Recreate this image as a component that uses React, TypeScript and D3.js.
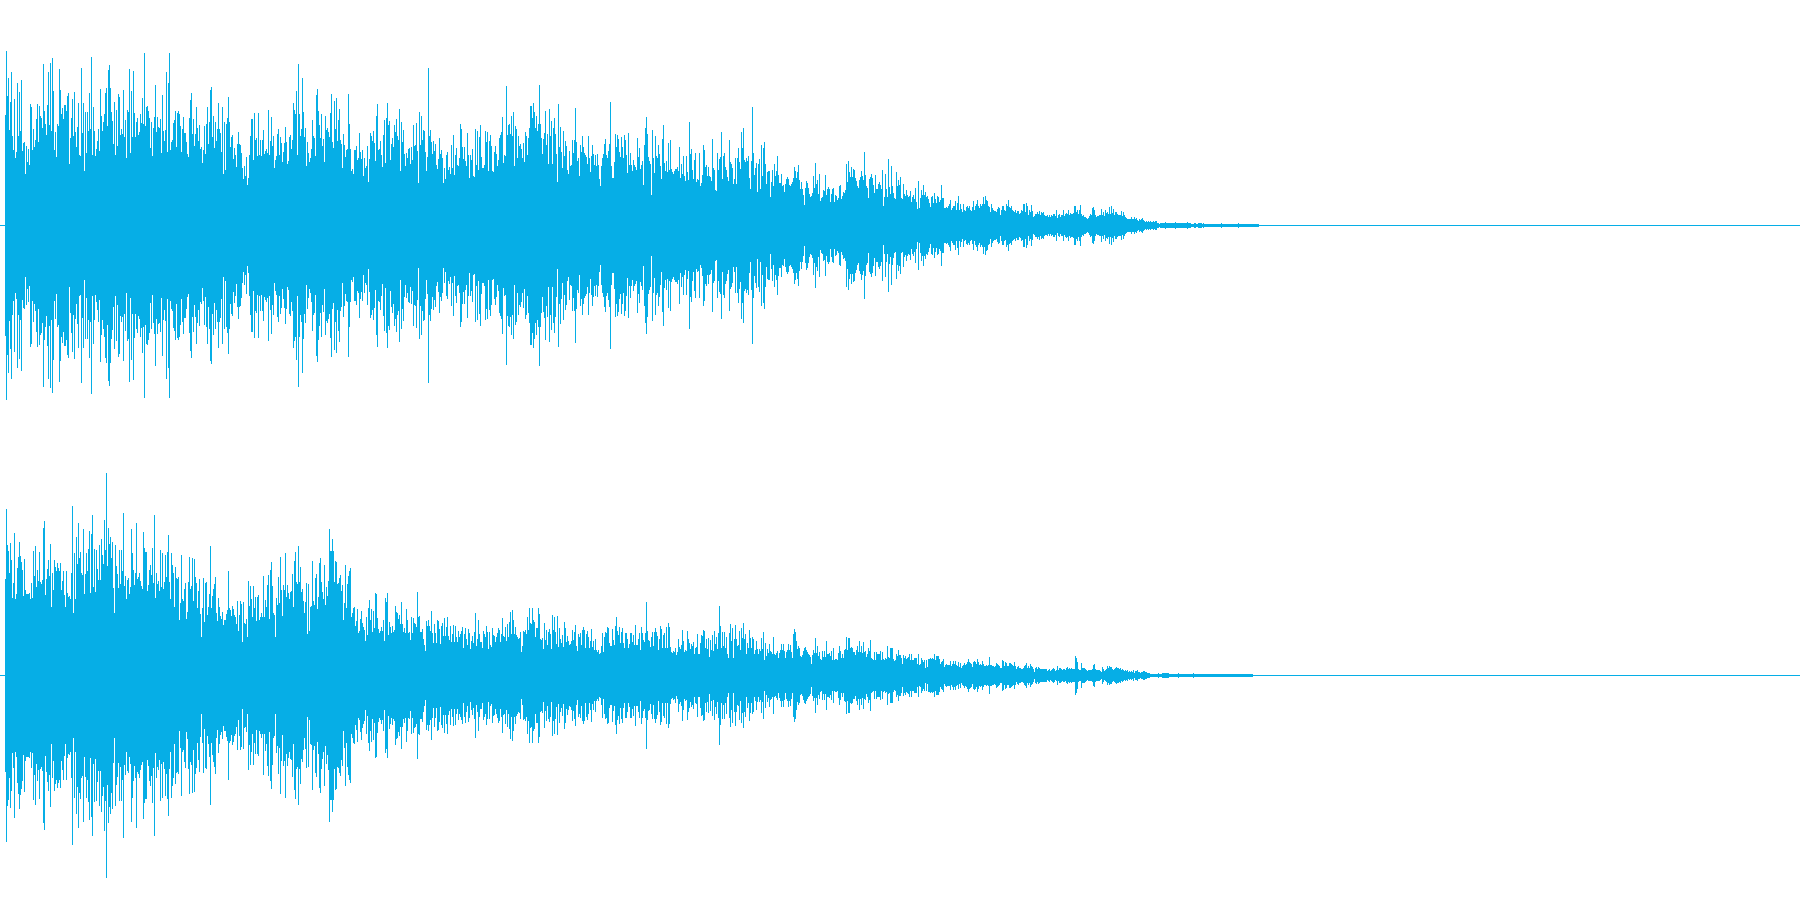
import React from "react";
import * as d3 from "d3";

const upperPeaksOpening = [110,174,129,147,95,123,153,89,75,126,67,73,142,89,133,94,145,74,82,83,51,79,63,76,60,121,118,75,96,78,85,106,121,83,119,109,107,97,161,114,101,90,120,153,100,162,94,167,134,75,93,68,101,99,156,135,111,117,106,120,120,114,129,132,61,87,107,126,89,133,93,78,98,122,70,69,157,92,122,54,113,72,113,94,132,96,168,70,118,94,69,76,84,96,74,136,109,94,103,111,132,137,99,155,160,137,113,104,81,123,70,115,79,131,128,90,96,91,135,88,105,67,115,113,156,72,134,88,154,112,88,103,107,90,93,111,102,127,101,172,99,118,119,114,107,77,103,69,97,108,140,93,108,98,97,106,72,130,94,84,95,153,73,142,172,75,83,85,102,105,114,78,112,114,111,99,73,96,108,92,92,83,71,68,107,125,132,91,106,79,91,118,97,84,100,76,78,62,75,99,71,101,118,81,103,135,138,88,109,77,103,84,96,122,96,92,73,118,51,103,55,101,107,128,103,78,88,90,66,77,70,58,81,93,81,80,72,57,46,59,49,68,40,47,70,89,106,106,65,112,85,87,69,112,70,85,69,85,95,71,74,76,72,115,70,84,108,79,89,57,65,69,91,96,70,88,82,63,73,82,98,83,61,64,88,90,76,85,122,115,111,134,70,161,111,89,96,147,113,88,97,59,83,72,63,67,76,105,89,87,69,130,136,114,100,87,111,79,86,63,109,95,97,93,88,112,131,83,77,124,96,127,84,105,116,85,81,57,91,80,68,75,76,131,101,76,54,56,51,75,75,79,65,67,92,73,66,75,49,67,57,59,79,43,66,92,89,84,94,82,64,109,121,75,76,84,70,58,90,105,62,107,122,100,104,65,81,87,78,100,93,106,89,85,116];
const upperPeaksMiddle = [54,103,83,95,71,59,72,67,76,77,61,78,65,100,79,80,102,74,42,113,80,109,85,95,94,73,54,68,157,89,95,83,71,84,74,81,60,56,66,87,71,75,67,42,57,46,70,73,55,58,51,80,57,90,50,70,77,60,59,67,101,96,78,66,78,64,59,92,70,47,70,65,76,49,48,96,60,94,55,88,100,68,57,57,60,94,83,93,54,84,90,79,54,53,73,79,71,59,65,87,90,93,108,62,70,69,139,90,100,101,91,109,89,113,59,99,96,67,89,79,81,76,67,82,63,93,89,70,87,97,119,119,107,122,113,97,109,94,101,140,101,87,71,86,92,114,80,91,61,116,89,104,61,97,107,91,71,43,121,78,98,73,57,94,69,84,79,55,51,74,59,60,85,72,85,117,83,64,67,49,80,73,89,78,72,70,68,61,89,67,53,69,80,71,60,70,59,71,60,46,39,59,67,71,81,86,70,67,74,81,123,59,47,47,63,91,78,90,86,73,68,88,78,67,90,85,70,52,92,60,72,60,54,65,60,58,55,87,68,77,56,60,64,40,80,97,108,91,68,64,61,30,95,67,52,89,69,67,80,71,59,46,86,100,62,54,64,53,82,55,85,56,53,51,54,56,56,58,54,78,47,61,51,69,49,44,69,53,45,103,71,76,55,46,65,72,43,46,45,72,39,42,50,80,75,58,60,49,58,49,48,44,86,57,55,35,34,72,55,66,68,93,46,69,72,58,55,48,44,85,63,61,57,41,46,67,41,67,77,63,56,93,77,97,65,63,67,64,69,47,36,64,118,72,50,57,62,33,61,66,36,80,49,77,83,61,41,53,54,54,28,43,55,39,61,49,54,69,50,42,42,51,39,40,33,41,46,48,46,40,39,41,43,47,58,54,47,53,60,45];
const upperPeaksDecay = [36,43,36,30,20,37,44,42,37,31,28,29,32,49,37,62,41,45,31,51,24,27,28,35,34,50,30,36,38,36,23,31,36,37,23,30,29,25,27,39,40,26,29,33,32,35,61,43,64,53,48,58,48,56,55,47,44,39,37,45,48,54,49,45,73,50,39,37,27,46,48,51,47,40,32,50,36,36,41,43,40,36,55,19,28,51,36,28,66,38,31,59,39,32,27,26,53,39,45,40,48,27,26,41,31,29,35,30,28,29,34,23,28,30,26,37,23,16,44,17,27,35,30,40,30,33,28,29,26,22,18,28,29,22,32,26,22,29,28,23,25,40,27,27,17,17,18,17,19,21,25,15,17,19,19,24,15,22,29,15,21,16,13,21,15,14,18,19,17,19,15,14,18,24,15,19,21,25,19,17,21,19,21,28,21,29,25,24,19,18,13,21,17,15,14,14,13,16,18,17,10,15,19,19,15,14,21,19,25,18,17,19,15,14,13,15,12,14,14,11,12,15,14,21,21,13,22,19,10,15,13,20,14,8,9,11,11,13,11,14,10,13,12,13,10,9,9,10,8,10,8,10,9,11,11,9,15,7,10,11,8,10,10,15,9,11,12,11,15,10,12,11,11,12,19,19,13,15,11,15,20,11,9,10,8,8,7,6,7,9,11,10,17,18,15,10,8,9,9,10,10,16,10,13,9,15,12,13,11,18,11,19,12,16,10,13,13,11,10,10,10,14,9,13,10,8,7,6,6,6,6,8,6,6,8,6,7,5,4,6,5,6,7,5,4,3,4,3,4,3,4,3,3,4,3,4,4,2,2,1];
const upperPeaksTail = [2,2,2,2,2,3,2,2,2,2,2,2,2,2,2,3,2,2,2,2,2,2,2,2,2,2,2,3,2,2,2,1,1,1,2,2,1,1,2,2,2,2,1,2,1,1,1,1,1,1,1,1,1,1,1,1,1,1,1,1,1,2,1,1,1,1,1,1,1,1,1,1,1,1,1,1,1,1,2,1,1,1,1,1,1,1,1,1,1,1,1,1,1,1,1,1,1,1,1];

const lowerPeaksOpening = [96,166,130,124,102,132,115,77,92,142,76,81,107,118,133,119,113,105,79,116,85,81,81,81,82,76,92,77,124,99,129,88,105,94,123,93,91,95,147,154,80,96,106,115,99,131,68,102,85,115,108,104,112,107,104,112,85,94,104,80,68,104,82,78,79,76,102,169,62,122,76,138,111,152,117,123,102,100,146,81,101,122,104,126,144,82,141,160,88,126,83,125,106,95,130,95,136,120,111,155,125,202,109,147,131,138,117,133,87,62,130,109,101,87,125,91,125,104,162,89,99,76,95,97,81,88,146,122,105,90,102,152,96,98,102,94,89,86,143,127,123,123,84,90,105,110,100,127,92,160,77,102,91,94,84,125,88,122,86,93,120,98,123,140,93,76,122,110,102,68,108,97,96,98,55,72,120,76,74,86,92,56,63,93,118,86,89,117,74,116,98,92,67,84,96,61,38,67,97,53,92,93,60,68,81,129,67,79,86,91,98,62,54,77,68,59,56,63,50,55,55,61,65,104,67,65,59,69,66,60,58,51,74,44,60,74,71,33,73,52,51,56,38,94,69,89,76,58,89,67,78,54,78,80,55,58,62,58,99,58,75,68,90,100,56,105,113,89,62,60,38,77,70,98,72,118,85,59,90,85,122,78,90,82,76,83,84,101,68,114,123,93,91,129,93,108,83,86,74,62,73,92,41,91,44,68,69,114,74,70,97,101,66,78,112,117,93,83,76,110,70,88,79,94,146,124,124,136,124,93,114,113,91,92,97,100,84,90,55,72,110,67,91,99,104,107,58,62,67,68,49,54,66,42,44,56,64,52,48,45,34,58,40,67,75,55,66,43,64,47,82,81,57,46,42,44,48,44,55,34,77,73,82,40,53,48,42,49,43,45,69,63,62];
const lowerPeaksMiddle = [56,60,51,73,51,43,47,42,66,55,42,43,35,58,42,57,52,51,48,83,58,59,43,43,46,36,30,24,54,49,55,49,44,64,42,32,51,42,32,55,54,46,31,49,52,39,57,39,48,58,39,35,49,33,41,50,33,49,38,33,44,38,41,44,48,27,41,47,36,30,46,42,26,34,39,32,43,62,29,36,55,41,33,33,27,44,41,38,49,43,26,43,30,28,47,40,39,33,38,42,47,45,33,41,57,39,38,48,34,51,38,53,63,41,65,55,41,48,40,38,36,37,43,23,29,44,43,45,41,58,45,67,52,51,67,55,53,38,47,47,67,61,36,35,37,26,52,35,45,30,43,46,41,26,60,45,58,43,31,59,28,47,36,32,40,28,53,47,33,39,34,30,31,34,45,35,43,50,29,24,41,38,42,30,45,48,45,27,41,44,38,27,34,46,28,34,25,36,25,23,25,21,22,29,42,23,38,43,42,48,47,32,29,29,46,35,30,49,58,44,40,48,32,43,47,32,27,42,42,36,27,31,42,42,33,40,30,50,30,30,36,42,25,48,42,35,33,42,73,44,35,34,28,38,43,29,43,47,43,39,25,36,49,46,27,40,42,27,48,27,52,48,28,23,22,24,23,27,20,23,36,28,26,30,45,34,23,25,24,44,36,32,26,31,29,33,21,27,28,41,21,21,32,40,39,45,44,27,36,26,37,18,35,25,40,24,44,31,38,26,42,69,49,27,43,29,43,27,38,21,17,42,51,34,47,17,36,50,36,29,30,44,25,47,37,52,36,41,21,32,27,45,37,27,38,36,21,25,34,26,21,26,24,37,26,43,15,32,19,26,22,31,24,23,21,38,21,20,22,24,17,22,25,31,25,31,24,17,23,25,31,25,30,23,17,41,46,43,34,26,29,27];
const lowerPeaksDecay = [19,18,20,24,27,28,25,23,21,20,18,11,20,25,22,37,22,29,19,23,16,15,24,18,24,18,34,21,21,22,19,24,15,27,15,16,16,15,22,29,24,17,21,17,25,26,38,25,37,37,27,28,27,23,23,20,25,29,23,34,23,29,22,33,23,24,18,21,27,24,35,17,16,15,23,15,23,21,21,21,24,15,23,16,15,17,16,29,18,17,27,27,27,16,14,15,21,19,25,20,20,17,11,20,17,19,16,17,18,21,15,21,15,15,17,17,17,11,21,10,11,17,15,13,15,7,15,8,16,16,17,16,17,16,21,15,19,19,19,16,11,13,14,16,8,10,11,10,10,10,14,9,11,14,11,14,10,9,13,8,12,7,9,10,12,10,11,13,16,13,12,11,8,13,14,13,11,16,13,10,11,10,14,11,9,9,10,9,10,18,10,10,9,9,8,9,12,11,10,9,7,7,15,14,9,13,12,9,9,12,12,11,10,9,13,9,6,8,9,7,7,6,6,7,9,10,12,7,9,7,11,9,8,6,3,7,8,6,8,7,6,6,6,6,6,6,6,4,5,6,4,5,6,7,6,4,5,9,5,7,7,6,5,6,6,5,7,8,6,7,6,7,6,6,6,19,17,13,6,5,5,12,7,7,7,6,5,4,5,5,5,5,6,10,11,6,5,5,5,5,4,3,8,6,4,5,6,9,7,9,8,8,6,5,6,7,8,7,7,6,7,5,6,5,4,5,4,5,3,4,3,4,3,5,2,4,4,5,3,3,2,3,3,4,4,3,3,2];
const lowerPeaksTail = [2,2,1,1,1,1,1,1,1,1,2,1,1,1,2,2,2,2,2,2,2,1,1,1,1,1,1,1,1,1,2,1,1,1,1,1,1,1,1,1,1,1,1,1,1,2,1,1,1,1,1,1,1,1,1,1,1,1,1,1,1,1,1,1,1,1,1,1,1,1,1,1,1,1,1,1,1,1,1,1,1,1,1,1,1,1,1,1,1,1,1,1,1,1,1,1,1,1,1,1,1,1,1,1,1];

const channels = [
  { name: "upper", center: 225.5, peaks: [...upperPeaksOpening, ...upperPeaksMiddle, ...upperPeaksDecay, ...upperPeaksTail] },
  { name: "lower", center: 675.5, peaks: [...lowerPeaksOpening, ...lowerPeaksMiddle, ...lowerPeaksDecay, ...lowerPeaksTail] },
];

const WAVE_COLOR = "#06aee6";
const WIDTH = 1800;
const HEIGHT = 900;

export default function App() {
  const x = d3.scaleLinear().domain([0, 1795]).range([5, 1800]);
  return (
    <svg
      width={WIDTH}
      height={HEIGHT}
      viewBox={`0 0 ${WIDTH} ${HEIGHT}`}
      style={{ position: "absolute", left: 0, top: 0, background: "#fff", display: "block" }}
      shapeRendering="crispEdges"
    >
      {channels.map((ch) => {
        const y = d3.scaleLinear().domain([-225, 225]).range([ch.center + 225, ch.center - 225]);
        return (
          <g key={ch.name}>
            <rect x={0} y={y(0) - 0.5} width={WIDTH} height={1} fill={WAVE_COLOR} />
            {ch.peaks.map((p, i) => (
              <rect
                key={i}
                x={x(i)}
                y={y(p) - 0.5}
                width={1}
                height={y(-p) - y(p) + 1}
                fill={WAVE_COLOR}
              />
            ))}
          </g>
        );
      })}
    </svg>
  );
}
